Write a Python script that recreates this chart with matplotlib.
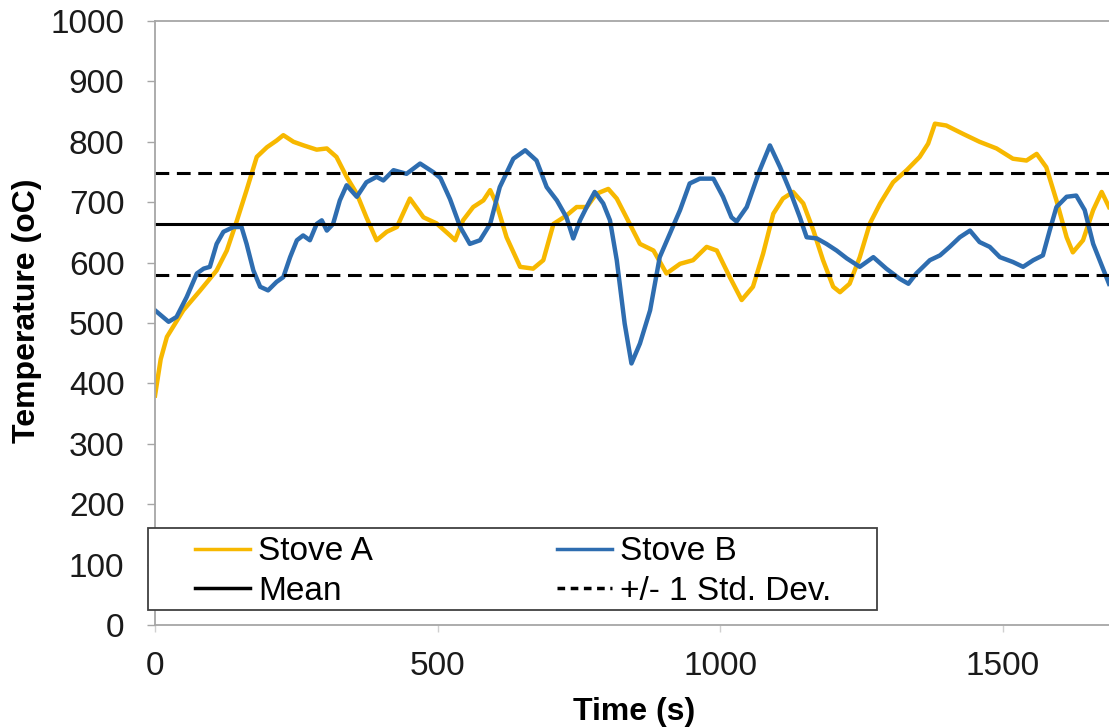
import matplotlib
matplotlib.use('Agg')
import matplotlib.pyplot as plt
from matplotlib.patches import Rectangle

plt.rcParams['font.family'] = ['Liberation Sans', 'DejaVu Sans']

# Stove A (yellow) - time (s), temperature (oC)
time_a = [0, 10, 21, 50, 80, 109, 127, 145, 162, 180, 198, 215, 227, 245, 263, 286, 304, 321,
          339, 357, 374, 392, 410, 428, 451, 475, 498, 522, 531, 545, 563, 581, 593, 604, 622,
          646, 669, 687, 705, 728, 746, 764, 781, 802, 817, 834, 858, 882, 905, 929, 952, 976,
          994, 1017, 1038, 1058, 1076, 1094, 1111, 1129, 1147, 1165, 1182, 1200, 1212, 1229,
          1247, 1265, 1283, 1306, 1330, 1353, 1368, 1380, 1400, 1430, 1459, 1489, 1518, 1542,
          1560, 1577, 1595, 1613, 1624, 1642, 1660, 1675, 1688]
temp_a = [380, 440, 477, 521, 554, 587, 620, 670, 720, 775, 791, 802, 811, 800, 794, 787, 789, 775,
          742, 714, 675, 637, 651, 659, 706, 675, 665, 645, 637, 670, 692, 703, 720, 698, 642,
          593, 590, 604, 664, 678, 692, 692, 714, 722, 706, 675, 631, 620, 582, 598, 604, 626,
          620, 576, 538, 560, 615, 681, 706, 717, 698, 653, 604, 560, 551, 565,
          609, 665, 698, 733, 753, 775, 797, 830, 827, 813, 800, 789, 772, 769,
          780, 758, 703, 642, 617, 637, 687, 717, 692]

# Stove B (blue)
time_b = [0, 24, 38, 56, 74, 86, 97, 109, 121, 139, 153, 162, 174, 186, 200, 215, 227, 239, 251,
          262, 274, 286, 295, 304, 315, 327, 339, 357, 374, 392, 404, 422, 445, 469, 492, 505,
          522, 540, 557, 575, 593, 610, 634, 655, 675, 693, 711, 728, 740, 752, 767, 778, 793,
          805, 817, 831, 843, 858, 876, 893, 911, 929, 946, 964, 988, 1005, 1020, 1029, 1047,
          1070, 1088, 1106, 1123, 1141, 1153, 1171, 1188, 1206, 1224, 1247, 1271, 1294, 1318,
          1333, 1347, 1371, 1389, 1406, 1424, 1442, 1459, 1477, 1495, 1518, 1536, 1554, 1571,
          1583, 1595, 1613, 1630, 1645, 1660, 1688]
temp_b = [521, 502, 510, 543, 582, 590, 593, 631, 651, 659, 659, 631, 587, 560, 554, 568, 576, 609, 637,
          645, 637, 664, 670, 653, 664, 703, 728, 709, 733, 742, 736, 753, 747, 764, 750, 740,
          705, 659, 631, 637, 664, 725, 772, 786, 769, 725, 703, 675, 640, 670, 698, 717, 698,
          670, 604, 499, 433, 466, 521, 609, 648, 687, 731, 739, 739, 709, 675, 668, 692,
          753, 794, 758, 720, 675, 642, 640, 631, 620, 607, 593, 609, 590, 573,
          565, 582, 604, 612, 626, 642, 653, 634, 626, 609, 601, 593, 604, 612,
          653, 692, 709, 711, 687, 631, 565]

mean_temp = 664
std_temp = 85

x_ticks = [0, 500, 1000, 1500]
y_ticks = list(range(0, 1001, 100))

fig = plt.figure(figsize=(11.09, 7.27), dpi=100)
ax = fig.add_axes([0.1398, 0.1403, 0.8602, 0.8308])

line_a, = ax.plot(time_a, temp_a, color='#F7B800', lw=3.2, label='Stove A', solid_joinstyle='round')
line_b, = ax.plot(time_b, temp_b, color='#2E6DB0', lw=3.2, label='Stove B', solid_joinstyle='round')
line_mean = ax.axhline(mean_temp, color='black', lw=2.2, label='Mean')
line_std = ax.axhline(mean_temp + std_temp, color='black', lw=2.2, ls=(0, (4.5, 2.5)),
                      label='+/- 1 Std. Dev.')
ax.axhline(mean_temp - std_temp, color='black', lw=2.2, ls=(0, (4.5, 2.5)))

ax.set_xlim(0, 1688)
ax.set_ylim(0, 1000)
ax.set_xticks(x_ticks)
ax.set_yticks(y_ticks)

for side in ['left', 'bottom', 'top']:
    ax.spines[side].set_color('#A6A6A6')
    ax.spines[side].set_linewidth(1.3)
ax.spines['right'].set_visible(False)

ax.tick_params(axis='y', direction='out', length=6, width=1, color='#A6A6A6',
               labelsize=24, pad=16, labelcolor='#1a1a1a')
ax.tick_params(axis='x', direction='out', length=5, width=1, color='#D0D0D0',
               labelsize=24, pad=14, labelcolor='#1a1a1a')

ax.set_xlabel('Time (s)', fontsize=23, fontweight='bold')
ax.xaxis.set_label_coords(0.502, -0.119)
ax.set_ylabel('Temperature (oC)', fontsize=23, fontweight='bold')
ax.yaxis.set_label_coords(-0.118, 0.52)

# legend box drawn separately so its padding matches the original
box = Rectangle((-0.0073, 0.0248), 0.7641, 0.1358, transform=ax.transAxes,
                facecolor='white', edgecolor='#404040', lw=1.3, clip_on=False, zorder=4)
ax.add_patch(box)
# column-major order so rows read: Stove A, Stove B / Mean, Std. Dev.
handles = [line_a, line_mean, line_b, line_std]
leg = ax.legend(handles=handles, labels=[h.get_label() for h in handles],
                loc='upper left', bbox_to_anchor=(0.0419, 0.147), ncol=2, frameon=False,
                fontsize=24, handlelength=1.65, handletextpad=0.25, columnspacing=5.5,
                labelspacing=0.25, borderpad=0, borderaxespad=0)
leg.set_zorder(5)
leg_lines = leg.get_lines()
for line in leg_lines:
    line.set_linewidth(2.5)
leg_lines[3].set_linestyle((0, (2.2, 1.6)))

fig.savefig('out.png', dpi=100)
